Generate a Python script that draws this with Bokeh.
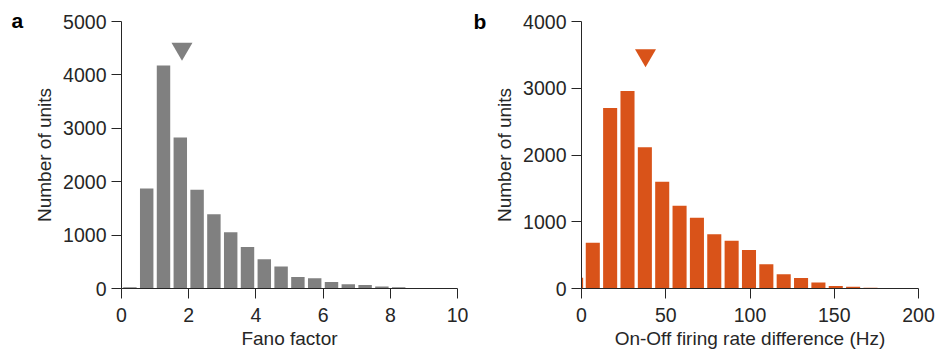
from bokeh.plotting import figure
from bokeh.layouts import row
from bokeh.models import Label
from bokeh.embed import file_html
from bokeh.resources import INLINE

# Panel a: Fano factor histogram (bin centres, counts)
fano_centers = [0.25, 0.75, 1.25, 1.75, 2.25, 2.75, 3.25, 3.75, 4.25,
                4.75, 5.25, 5.75, 6.25, 6.75, 7.25, 7.75, 8.25]
fano_counts = [25, 1875, 4175, 2830, 1850, 1390, 1055, 778, 546,
               412, 215, 190, 122, 80, 65, 38, 22]
fano_bin_width = 0.5
fano_marker = 1.8

# Panel b: On-Off firing rate difference histogram (bin centres in Hz, counts)
rate_centers = [-3.2, 6.7, 17.0, 27.3, 37.6, 47.9, 58.2, 68.5, 78.8,
                89.1, 99.4, 109.7, 120.0, 130.3, 140.6, 150.9, 161.2, 171.5]
rate_counts = [160, 685, 2705, 2960, 2115, 1600, 1240, 1060, 812,
               715, 578, 365, 215, 158, 90, 38, 25, 10]
rate_bin_width = 10.3
rate_marker = 38

fano_xticks = [0, 2, 4, 6, 8, 10]
fano_yticks = [0, 1000, 2000, 3000, 4000, 5000]
rate_xticks = [0, 50, 100, 150, 200]
rate_yticks = [0, 1000, 2000, 3000, 4000]

GRAY = "#808080"
ORANGE = "#D95319"
INK = "#262626"
FONT = "Liberation Sans"


def style(p, xticks, yticks, xlabel, ylabel):
    p.xaxis.ticker = xticks
    p.yaxis.ticker = yticks
    p.xgrid.visible = False
    p.ygrid.visible = False
    p.outline_line_color = None
    for ax in (p.xaxis[0], p.yaxis[0]):
        ax.axis_line_color = INK
        ax.axis_line_width = 1
        ax.major_tick_line_color = INK
        ax.major_tick_in = 0
        ax.major_tick_out = 10
        ax.minor_tick_line_color = None
        ax.major_label_text_font = FONT
        ax.major_label_text_font_size = "19.5px"
        ax.major_label_text_color = INK
        ax.axis_label_text_font = FONT
        ax.axis_label_text_font_size = "19px"
        ax.axis_label_text_font_style = "normal"
        ax.axis_label_text_color = INK
    p.xaxis.major_label_standoff = 9
    p.yaxis.major_label_standoff = 5
    p.xaxis.axis_label_standoff = 3
    p.yaxis.axis_label_standoff = 5
    p.xaxis.axis_label = xlabel
    p.yaxis.axis_label = ylabel


def panel_letter(p, letter, x, y):
    # bold panel letter, placed in a side panel left of the y axis
    p.add_layout(Label(x=x, y=y, x_units="screen", y_units="screen",
                       text=letter, text_font=FONT, text_font_size="21px",
                       text_font_style="bold", text_color="black",
                       text_baseline="alphabetic", text_align="left"), "left")


pa = figure(width=468, height=354, x_range=(0, 10), y_range=(0, 5000),
            output_backend="svg", toolbar_location=None,
            min_border_left=121, min_border_right=11,
            min_border_top=21, min_border_bottom=66)
pa.vbar(x=fano_centers, top=fano_counts, width=fano_bin_width * 0.8,
        bottom=0, fill_color=GRAY, line_color=None)
pa.scatter(x=[fano_marker], y=[4490], marker="inverted_triangle", size=21,
           fill_color=GRAY, line_color=None)
style(pa, fano_xticks, fano_yticks, "Fano factor", "Number of units")
panel_letter(pa, "a", -8, 268)

pb = figure(width=468, height=354, x_range=(0, 200), y_range=(0, 4000),
            output_backend="svg", toolbar_location=None,
            min_border_left=113, min_border_right=18,
            min_border_top=21, min_border_bottom=66)
pb.vbar(x=rate_centers, top=rate_counts, width=rate_bin_width * 0.81,
        bottom=0, fill_color=ORANGE, line_color=None)
pb.scatter(x=[rate_marker], y=[3495], marker="inverted_triangle", size=21,
           fill_color=ORANGE, line_color=None)
style(pb, rate_xticks, rate_yticks, "On-Off firing rate difference (Hz)",
      "Number of units")
panel_letter(pb, "b", -5, 267)

layout = row(pa, pb)
open("out.html", "w").write(file_html(layout, INLINE))
